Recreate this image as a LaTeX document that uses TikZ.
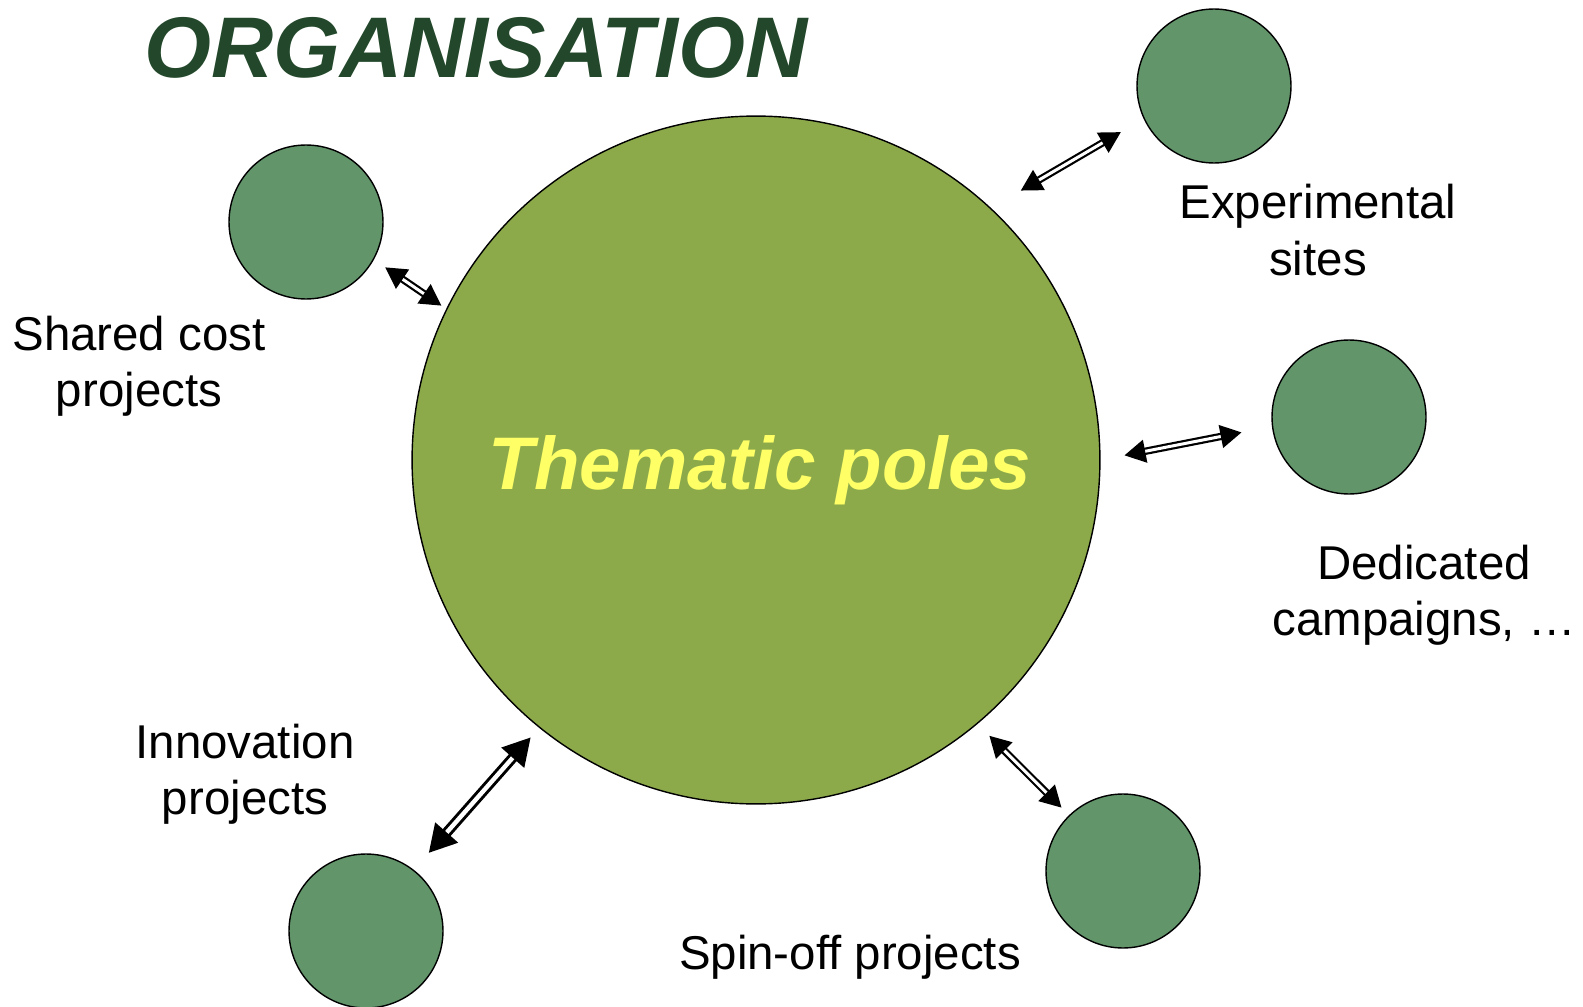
\documentclass[tikz,border=0pt]{standalone}
\usepackage{fontspec}
\setmainfont{Liberation Sans}
\usetikzlibrary{arrows.meta}

\definecolor{polegreen}{HTML}{8DAA4B}
\definecolor{unitgreen}{HTML}{63956B}
\definecolor{titlegreen}{HTML}{22472A}
\definecolor{poleyellow}{HTML}{FFFF66}

\tikzset{
  pole/.style={circle, draw, line width=0.8pt, fill=polegreen, inner sep=0pt, minimum size=13.76cm},
  unit/.style={circle, draw, line width=0.8pt, fill=unitgreen, inner sep=0pt, minimum size=3.08cm},
  caption/.style={align=center, inner sep=0pt, font=\fontsize{27}{32}\selectfont},
  link/.style={line width=1.25pt, double=white, double distance=1.7pt,
    {Triangle[length=0.42cm, width=0.46cm]}-{Triangle[length=0.42cm, width=0.46cm]}},
  biglink/.style={line width=1.7pt, double=white, double distance=2.5pt,
    {Triangle[length=0.54cm, width=0.6cm]}-{Triangle[length=0.54cm, width=0.6cm]}},
}

\begin{document}
\begin{tikzpicture}[x=0.02cm, y=-0.02cm]
  \useasboundingbox (0,0) rectangle (1583,1007);

  \node[anchor=base, text=titlegreen, font=\fontsize{49}{52}\selectfont\bfseries\itshape] (title) at (476,78) {ORGANISATION};

  \node[pole] (poles) at (756,460) {};
  \node[anchor=base, text=poleyellow, font=\fontsize{42.4}{46}\selectfont\bfseries\itshape] (poletext) at (760,489) {Thematic poles};

  \node[unit] (shared) at (306,222) {};
  \node[unit] (sites) at (1214,86) {};
  \node[unit] (campaigns) at (1349,417) {};
  \node[unit] (spinoff) at (1123,871) {};
  \node[unit] (innovation) at (366,931) {};

  \node[caption] (sharedlbl) at (139,366) {Shared cost\\projects};
  \node[caption] (siteslbl) at (1318,230) {Experimental\\sites};
  \node[caption] (campaignslbl) at (1424,595) {Dedicated\\campaigns, …};
  \node[caption] (innovationlbl) at (245,774) {Innovation\\projects};
  \node[caption] (spinofflbl) at (850,957) {Spin-off projects};

  % links between the poles and the units
  \draw[link, shorten <=0.273cm, shorten >=0.118cm] (shared.-29.4) -- (poles.154.8);
  \draw[link, shorten <=0.69cm, shorten >=0.528cm] (poles.47.6) -- (sites.-155.4);
  \draw[link, shorten <=0.487cm, shorten >=0.62cm] (poles.0.85) -- (campaigns.187.5);
  \draw[biglink, shorten <=0.258cm, shorten >=0.454cm] (poles.231) -- (innovation.52.4);
  \draw[link, shorten <=0.335cm, shorten >=0.213cm] (poles.-50.5) -- (spinoff.134.9);
\end{tikzpicture}
\end{document}
